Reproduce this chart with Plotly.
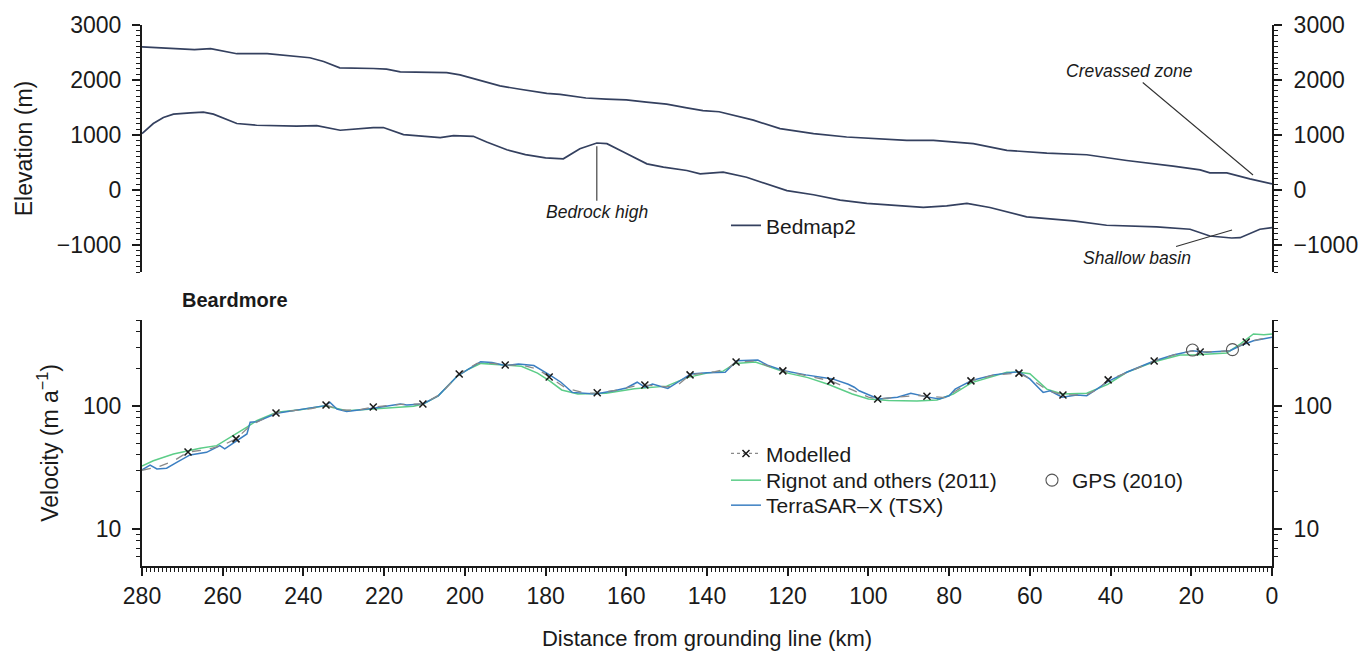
import math
import plotly.graph_objects as go

# ---------------- DATA ----------------
# Bedmap2 ice surface (km from grounding line, elevation m)
surf_km = [280, 276, 272, 267, 263, 259, 256.5, 249, 243, 238.4, 235, 231, 222.7, 219.4, 216, 210,
           204.5, 201.2, 196, 191.3, 186.3, 179.7, 176.4, 170, 165, 160, 155, 150, 145, 141, 137, 133,
           128.5, 121.9, 113.6, 105.4, 98, 90.5, 83.9, 74, 65.7, 55.8, 45.9, 36, 24.5, 17.8, 15.4,
           11.2, 5.5, 0]
surf_m = [2600, 2585, 2580, 2550, 2570, 2510, 2477, 2477, 2428, 2404, 2336, 2220, 2208, 2196, 2147, 2140,
          2134, 2092, 1990, 1890, 1829, 1756, 1737, 1670, 1650, 1635, 1595, 1560, 1490, 1440, 1420, 1350,
          1266, 1113, 1022, 960, 930, 899, 899, 838, 716, 666, 636, 532, 428, 361, 306,
          306, 196, 105]

# Bedmap2 bed
bed_km = [280, 277.2, 274.7, 272.2, 268, 264.8, 262.3, 256.5, 251.6, 241.7, 236.7, 230.9, 222.7, 220.2,
          215.2, 206.1, 202.8, 197.9, 194.6, 189.6, 185, 180, 175.6, 171.5, 167.3, 164.8, 160.7, 154.9,
          150.8, 145, 141.7, 136, 130.2, 125.2, 120.2, 113.6, 107, 100.4, 92.2, 86.4, 80.6, 75.6, 69.9,
          60.8, 49.2, 41, 28.6, 20.3, 15.4, 10, 7.9, 3, 0]
bed_m = [1022, 1205, 1315, 1376, 1400, 1413, 1376, 1205, 1174, 1156, 1168, 1083, 1132, 1132,
         1003, 948, 985, 972, 868, 728, 640, 580, 563, 746, 850, 838, 685, 471,
         410, 349, 287, 318, 226, 104, -18, -92, -190, -251, -294, -324, -294, -251, -324,
         -495, -569, -648, -679, -721, -844, -880, -875, -721, -692]

# TerraSAR-X velocity (m/a)
tsx_km = [280, 278, 276.3, 273.9, 271.4, 268.1, 264, 260.7, 259.5, 256.5, 254, 253.2, 251.6, 246.6,
          242.5, 239.2, 234.6, 233.4, 231.7, 229.3, 222.7, 216, 214.4, 210.4, 206.6, 201.8, 199, 196.1,
          193.3, 190, 186.7, 182.9, 178.6, 176.2, 173.4, 167.7, 163, 160, 157.3, 155.4, 153.5, 149.7,
          148.7, 144, 140, 135.5, 132.6, 127.4, 125, 121.2, 115.5, 108.9, 105, 103.5, 102.3, 97.5,
          92.8, 89.5, 85.2, 82.4, 80, 78.5, 74.4, 69, 62.7, 60, 57.5, 56.7, 55, 52, 48.4, 45.9, 43.4,
          40.7, 36, 29.4, 24.5, 19.7, 16.2, 10.4, 7.9, 4.6, 0]
tsx_v = [30.3, 33.1, 30.8, 31.2, 34.8, 40.0, 42.0, 47.6, 44.8, 52.2, 59.2, 73.7, 74.5, 87.2,
         91.6, 94.5, 100.6, 107, 94.5, 90, 95.7, 104, 101.9, 103.8, 121, 176, 200, 229,
         226, 213, 219, 213, 176, 156, 129, 125, 133, 140, 156, 142, 151, 139,
         146, 182, 186, 188, 233, 236, 215, 194, 179, 166, 150, 142, 133, 114,
         118, 127, 118, 114, 121, 137, 161, 179, 190, 166, 137, 129, 133, 118, 123, 121, 137,
         158, 188, 231, 260, 281, 273, 281, 309, 339, 362]

# Rignot and others (2011)
rig_km = [280, 277.2, 272.2, 265.6, 261.5, 257.4, 254.1, 251.6, 246.6, 240.8, 234.6, 229.3, 222.7,
          212.7, 210.3, 206.6, 201.8, 199, 196, 190, 186, 182, 179, 176, 172, 165, 158, 150, 145,
          140, 136, 133, 128, 124, 120, 115, 110, 104, 100, 95, 88, 83, 79, 74.4, 65.7, 62.7, 60,
          55.8, 52, 45.9, 40.7, 36, 29.4, 22.8, 19.7, 11.2, 7.9, 4.6, 2, 0]
rig_v = [32.5, 35.9, 40.7, 45.3, 47.6, 57.3, 67, 76, 89, 93.3, 100.6, 91.6, 94.5,
         99.4, 103.8, 121, 176, 200, 222, 213, 210, 185, 160, 135, 125, 127, 138, 145, 170,
         185, 192, 222, 228, 205, 185, 170, 150, 125, 114, 111, 110, 112, 125, 155, 188, 188, 183,
         137, 125, 127, 150, 188, 228, 260, 260, 270, 318, 385, 380, 385]

# Modelled velocity
mod_km = [280, 276, 272, 268.6, 264, 260, 256.7, 253, 250, 246.8, 242, 238, 234.4, 231, 227, 222.7,
          216, 210.4, 206, 201.4, 197, 193, 190, 186, 182, 179.1, 175, 170, 167.2, 162, 158, 155.4,
          150, 147, 144.2, 138, 135, 132.8, 128, 125, 121.2, 116, 109.3, 104, 100, 97.7, 92, 88,
          85.5, 81, 78, 74.6, 69, 62.7, 59, 55.5, 51.8, 46, 43, 40.6, 35, 29.2, 24, 20, 17.8, 13,
          10, 6.4, 3, 0]
mod_v = [30, 32, 36, 42.3, 44, 48, 54, 70, 78, 87.7, 92, 95, 101.9, 93, 92, 98.1,
         103, 103.8, 125, 182, 222, 222, 215, 215, 200, 172, 140, 127, 128, 135, 145, 148,
         143, 150, 179, 190, 200, 228, 232, 212, 193, 178, 160, 135, 118, 114, 118, 122,
         120, 117, 135, 160, 178, 185, 160, 133, 123, 123, 138, 163, 192, 232, 262, 280, 275, 277,
         283, 331, 350, 360]

# Modelled marker points
mark_km = [268.6, 256.7, 246.8, 234.4, 222.7, 210.4, 201.4, 190.0, 179.1, 167.2, 155.4, 144.2,
           132.8, 121.2, 109.3, 97.7, 85.5, 74.6, 62.7, 51.8, 40.6, 29.2, 17.8, 6.4]
mark_v = [42.3, 54, 87.7, 101.9, 98.1, 103.8, 182, 215, 172, 128, 148, 179,
          228, 193, 160, 114, 120, 160, 185, 123, 163, 232, 275, 331]

# GPS (2010)
gps_km = [19.7, 9.8]
gps_v = [285, 287]

elev_ticks = [-1000, 0, 1000, 2000, 3000]
vel_ticks = [10, 100]
vel_minor = [6, 7, 8, 9, 20, 30, 40, 50, 60, 70, 80, 90, 200, 300, 400, 500]
dist_ticks = list(range(0, 281, 20))

# ---------------- STYLE ----------------
FONT = "Liberation Sans, Arial, sans-serif"
NAVY = "#34405f"
GREEN = "#5ccd88"
BLUE = "#3b7fc2"
GRAY = "#8a8a8a"
AX = "#1a1a1a"
TICK_FS = 23
TITLE_FS = 23
LEG_FS = 21
ANN_FS = 17.5

fig = go.Figure()

# top panel
fig.add_trace(go.Scatter(x=surf_km, y=surf_m, mode="lines", line=dict(color=NAVY, width=1.7),
                         name="Bedmap2", legend="legend2", xaxis="x", yaxis="y"))
fig.add_trace(go.Scatter(x=bed_km, y=bed_m, mode="lines", line=dict(color=NAVY, width=1.7),
                         name="Bedmap2", showlegend=False, xaxis="x", yaxis="y"))
# invisible companion so the right-hand axis is drawn
fig.add_trace(go.Scatter(x=surf_km, y=surf_m, mode="lines", line=dict(width=0), opacity=0,
                         showlegend=False, hoverinfo="skip", xaxis="x", yaxis="y3"))

# bottom panel
fig.add_trace(go.Scatter(x=rig_km, y=rig_v, mode="lines", line=dict(color=GREEN, width=1.5),
                         name="Rignot and others (2011)", legend="legend4",
                         xaxis="x2", yaxis="y2"))
fig.add_trace(go.Scatter(x=tsx_km, y=tsx_v, mode="lines", line=dict(color=BLUE, width=1.5),
                         name="TerraSAR\u2013X (TSX)", legend="legend5",
                         xaxis="x2", yaxis="y2"))
fig.add_trace(go.Scatter(x=mod_km, y=mod_v, mode="lines", line=dict(color=GRAY, width=1.3, dash="dash"),
                         name="Modelled", showlegend=False, xaxis="x2", yaxis="y2"))
# markers (isolated points, line style used for legend symbol)
mk_x, mk_y = [], []
for a, b in zip(mark_km, mark_v):
    mk_x += [a, None]
    mk_y += [b, None]
fig.add_trace(go.Scatter(x=mk_x, y=mk_y, mode="lines+markers", connectgaps=False,
                         line=dict(color=GRAY, width=1.3, dash="dot"),
                         marker=dict(symbol="x-thin", size=7, color=AX, line=dict(width=1.5, color=AX)),
                         name="Modelled", legend="legend", xaxis="x2", yaxis="y2"))
fig.add_trace(go.Scatter(x=gps_km, y=gps_v, mode="markers",
                         marker=dict(symbol="circle-open", size=12, color="#555555", line=dict(width=1.1)),
                         name="GPS (2010)", legend="legend3", xaxis="x2", yaxis="y2"))
fig.add_trace(go.Scatter(x=tsx_km, y=tsx_v, mode="lines", line=dict(width=0), opacity=0,
                         showlegend=False, hoverinfo="skip", xaxis="x2", yaxis="y4"))

top_dom = [0.5434, 1.0]
bot_dom = [0.0, 0.4547]
yr_top = [-1500, 3000]
yr_bot = [math.log10(5), math.log10(500)]


def yax(right=False, **kw):
    d = dict(showline=True, linecolor=AX, linewidth=2, ticks="outside", ticklen=8, tickwidth=1.5,
             tickcolor=AX, showgrid=False, zeroline=False, automargin=False,
             ticklabelstandoff=7 if right else 6,
             tickfont=dict(family=FONT, size=TICK_FS, color=AX))
    d.update(kw)
    return d


def leg(x, y):
    return dict(x=x, y=y, xanchor="left", yanchor="top", bgcolor="rgba(0,0,0,0)",
                font=dict(family=FONT, size=LEG_FS, color=AX), itemwidth=30)


minor_top = dict(dtick=100, ticks="outside", ticklen=4, tickwidth=1, tickcolor=AX)
minor_bot = dict(tickvals=vel_minor, ticks="outside", ticklen=4, tickwidth=1, tickcolor=AX)

fig.update_layout(
    width=1363, height=651,
    margin=dict(l=142, r=91, t=25, b=85, autoexpand=False),
    paper_bgcolor="white", plot_bgcolor="white",
    font=dict(family=FONT, color=AX),
    hovermode=False,
    xaxis=dict(domain=[0, 1], anchor="y", range=[280, 0], visible=False, matches="x2",
               automargin=False, showgrid=False, zeroline=False),
    yaxis=yax(domain=top_dom, anchor="x", range=yr_top, tickvals=elev_ticks, minor=minor_top,
              title=dict(text="Elevation (m)", font=dict(family=FONT, size=TITLE_FS), standoff=18)),
    yaxis3=yax(True, domain=top_dom, anchor="x", overlaying="y", side="right", range=yr_top,
               tickvals=elev_ticks, minor=minor_top),
    xaxis2=dict(domain=[0, 1], anchor="y2", range=[280, 0], tickvals=dist_ticks,
                showline=True, linecolor=AX, linewidth=2, ticks="outside", ticklen=8, tickwidth=1.5,
                tickcolor=AX, showgrid=False, zeroline=False, ticklabelstandoff=0, automargin=False,
                minor=dict(dtick=1, ticks="outside", ticklen=4, tickwidth=1, tickcolor=AX),
                tickfont=dict(family=FONT, size=TICK_FS, color=AX),
                title=dict(text="Distance from grounding line (km)", font=dict(family=FONT, size=22),
                           standoff=27)),
    yaxis2=yax(domain=bot_dom, anchor="x2", type="log", range=yr_bot, tickvals=vel_ticks,
               minor=minor_bot,
               title=dict(text="Velocity (m a<sup>\u22121</sup>)", font=dict(family=FONT, size=TITLE_FS),
                          standoff=18)),
    yaxis4=yax(True, domain=bot_dom, anchor="x2", overlaying="y2", side="right", type="log",
               range=yr_bot, tickvals=vel_ticks, minor=minor_bot),
    legend=leg(0.5168, 0.2453),
    legend4=leg(0.5168, 0.1959),
    legend5=leg(0.5168, 0.1497),
    legend3=leg(0.7876, 0.1959),
    legend2=leg(0.5168, 0.6667),
    annotations=[
        dict(text="<i>Bedrock high</i>", x=167.3, y=790, xref="x", yref="y", ax=0, ay=66,
             showarrow=True, arrowhead=0, arrowwidth=1.1, arrowcolor="#333", standoff=0,
             font=dict(family=FONT, size=ANN_FS, color=AX)),
        dict(text="<i>Crevassed zone</i>", x=4.7, y=268, xref="x", yref="y", ax=-124, ay=-104,
             showarrow=True, arrowhead=0, arrowwidth=1.1, arrowcolor="#333", standoff=0,
             font=dict(family=FONT, size=ANN_FS, color=AX)),
        dict(text="<i>Shallow basin</i>", x=9.9, y=-734, xref="x", yref="y", ax=-95, ay=28,
             showarrow=True, arrowhead=0, arrowwidth=1.1, arrowcolor="#333", standoff=0,
             font=dict(family=FONT, size=ANN_FS, color=AX)),
        dict(text="<b>Beardmore</b>", x=0.0336, y=0.4917, xref="paper", yref="paper",
             xanchor="left", yanchor="middle", showarrow=False,
             font=dict(family=FONT, size=20, color=AX)),
    ],
)

fig.write_html("out.html", config={"displayModeBar": False},
               post_script="document.body.style.margin='0';document.body.style.overflow='hidden';")
